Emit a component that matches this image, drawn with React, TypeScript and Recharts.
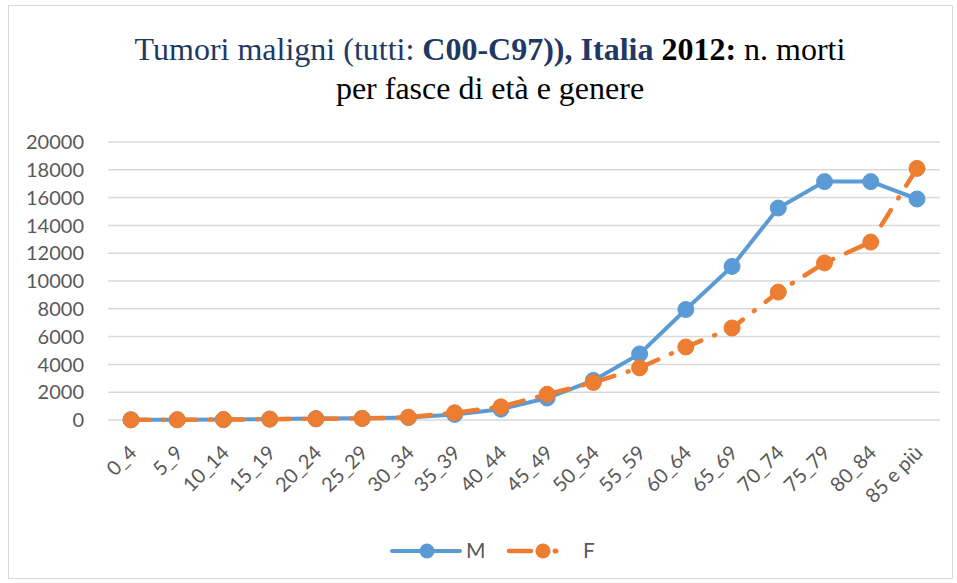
import { LineChart, Line, XAxis, YAxis, CartesianGrid } from 'recharts';

const ageBands = ['0_4', '5_9', '10_14', '15_19', '20_24', '25_29', '30_34', '35_39', '40_44', '45_49', '50_54', '55_59', '60_64', '65_69', '70_74', '75_79', '80_84', '85 e più'];
const maleDeaths = [20, 20, 30, 70, 100, 120, 180, 400, 780, 1580, 2850, 4750, 7950, 11050, 15250, 17150, 17150, 15900];
const femaleDeaths = [10, 20, 30, 60, 80, 110, 200, 520, 950, 1850, 2700, 3750, 5250, 6620, 9200, 11300, 12800, 18100];
const yTicks = [0, 2000, 4000, 6000, 8000, 10000, 12000, 14000, 16000, 18000, 20000];

const data = ageBands.map((band, i) => ({ band, M: maleDeaths[i], F: femaleDeaths[i] }));

const BLUE = '#5b9bd5';
const ORANGE = '#ed7d31';
const TICK_FONT = 'Lato, "Open Sans", sans-serif';

const AgeTick = ({ x, y, payload }: any) => (
  <g transform={`translate(${x + 7},${y + 26})`}>
    <text x={0} y={0} textAnchor="end" transform="rotate(-45)" fill="#595959" fontSize={20} fontFamily={TICK_FONT}>
      {payload.value}
    </text>
  </g>
);

const App = () => {
  return (
    <div style={{ position: 'absolute', left: 0, top: 0, width: 957, height: 583, background: '#fff' }}>
      <div style={{ position: 'absolute', left: 8, top: 5, width: 943, height: 572, border: '1px solid #d9d9d9' }} />
      <div
        style={{
          position: 'absolute',
          left: 0,
          top: 30,
          width: 980,
          textAlign: 'center',
          fontFamily: '"Liberation Serif", "Times New Roman", serif',
          fontSize: 32,
          lineHeight: '39px',
          color: '#000',
        }}
      >
        <span style={{ color: '#1f3864' }}>Tumori maligni (tutti: </span>
        <b style={{ color: '#1f3864' }}>C00-C97)), Italia</b>
        <b> 2012:</b> n. morti
        <br />
        per fasce di età e genere
      </div>
      <div style={{ position: 'absolute', left: 0, top: 0 }}>
        <LineChart width={957} height={583} data={data} margin={{ top: 142, right: 17, bottom: 73, left: 8 }}>
          <CartesianGrid vertical={false} stroke="#d9d9d9" strokeWidth={1.5} />
          <XAxis
            dataKey="band"
            axisLine={false}
            tickLine={false}
            interval={0}
            height={90}
            padding={{ left: 23, right: 23 }}
            tick={<AgeTick />}
          />
          <YAxis
            domain={[0, 20000]}
            ticks={yTicks}
            interval={0}
            axisLine={false}
            tickLine={false}
            width={100}
            tick={{ fill: '#595959', fontSize: 20, fontFamily: TICK_FONT }}
            tickMargin={18}
          />
          <Line
            type="linear"
            dataKey="M"
            stroke={BLUE}
            strokeWidth={4}
            dot={{ r: 8, fill: BLUE, stroke: BLUE, strokeWidth: 1 }}
            isAnimationActive={false}
          />
          <Line
            type="linear"
            dataKey="F"
            stroke={ORANGE}
            strokeWidth={4.5}
            strokeDasharray="18 14 1 14"
            strokeLinecap="round"
            dot={{ r: 8, fill: ORANGE, stroke: ORANGE, strokeWidth: 1, strokeDasharray: '0' }}
            isAnimationActive={false}
          />
        </LineChart>
      </div>
      <svg style={{ position: 'absolute', left: 0, top: 0 }} width={957} height={583}>
        <line x1={392} y1={551} x2={460} y2={551} stroke={BLUE} strokeWidth={4} strokeLinecap="round" />
        <circle cx={427} cy={551} r={7.5} fill={BLUE} />
        <text x={466} y={558} fill="#595959" fontSize={21} fontFamily={TICK_FONT}>M</text>
        <line x1={509} y1={551} x2={531} y2={551} stroke={ORANGE} strokeWidth={4.5} strokeLinecap="round" />
        <line x1={555} y1={551} x2={556} y2={551} stroke={ORANGE} strokeWidth={5} strokeLinecap="round" />
        <circle cx={543} cy={551} r={7.5} fill={ORANGE} />
        <text x={583} y={558} fill="#595959" fontSize={21} fontFamily={TICK_FONT}>F</text>
      </svg>
    </div>
  );
};

export default App;
